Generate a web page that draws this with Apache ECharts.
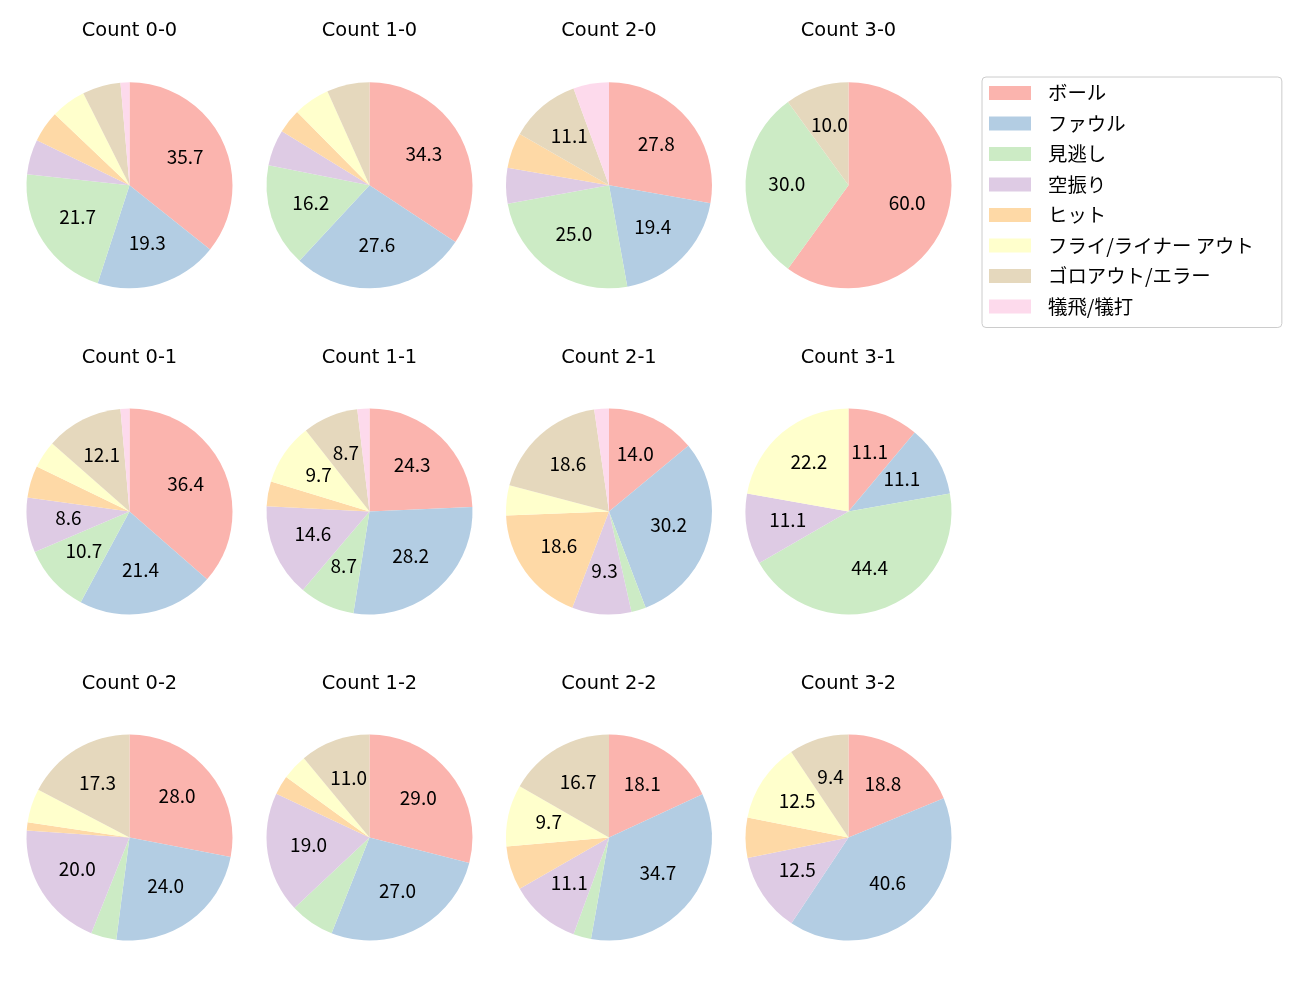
<!DOCTYPE html>
<html>
<head>
<meta charset="utf-8">
<script src="https://cdn.jsdelivr.net/npm/echarts@6/dist/echarts.min.js"></script>
<style>
html,body{margin:0;padding:0;background:#fff;}
#chart{width:1300px;height:1000px;}
</style>
</head>
<body>
<div id="chart"></div>
<script>
// ---- data ----
const categories = ['ボール','ファウル','見逃し','空振り','ヒット','フライ/ライナー アウト','ゴロアウト/エラー','犠飛/犠打'];
const colors = ['#fbb4ae','#b3cde3','#ccebc5','#decbe4','#fed9a6','#ffffcc','#e5d8bd','#fddaec'];
const countLabels = ['0-0','1-0','2-0','3-0','0-1','1-1','2-1','3-1','0-2','1-2','2-2','3-2'];
const c00 = [35.7,19.3,21.7,5.5,4.9,5.5,6.0,1.4];
const c10 = [34.3,27.6,16.2,5.7,3.8,5.7,6.7,0];
const c20 = [27.8,19.4,25.0,5.6,5.6,0,11.1,5.6];
const c30 = [60.0,0,30.0,0,0,0,10.0,0];
const c01 = [36.4,21.4,10.7,8.6,5.0,4.3,12.1,1.4];
const c11 = [24.3,28.2,8.7,14.6,3.9,9.7,8.7,1.9];
const c21 = [14.0,30.2,2.3,9.3,18.6,4.7,18.6,2.3];
const c31 = [11.1,11.1,44.4,11.1,0,22.2,0,0];
const c02 = [28.0,24.0,4.0,20.0,1.3,5.3,17.3,0];
const c12 = [29.0,27.0,7.0,19.0,3.0,4.0,11.0,0];
const c22 = [18.1,34.7,2.8,11.1,6.9,9.7,16.7,0];
const c32 = [18.8,40.6,0,12.5,6.3,12.5,9.4,0];
const countValues = [c00,c10,c20,c30,c01,c11,c21,c31,c02,c12,c22,c32];

// ---- layout ----
const colX = [129.5, 369.5, 609, 848.5];
const rowY = [185.3, 511.5, 837.5];
const titleY = [31, 357.5, 684];
const R = 103;
const FONT = '"Noto Sans CJK JP", "Noto Sans", sans-serif';

const titles = [];
const pieSeries = [];
const labelSeries = [];
countLabels.forEach((c, i) => {
  const col = i % 4, row = Math.floor(i / 4);
  titles.push({
    text: 'Count ' + c,
    left: colX[col], top: titleY[row],
    textAlign: 'center', textVerticalAlign: 'middle', padding: 0,
    textStyle: {fontSize: 19.4, fontWeight: 'normal', color: '#000', fontFamily: '"DejaVu Sans", sans-serif'}
  });
  const vals = countValues[i];
  const data = categories.map((n, k) => ({name: n, value: vals[k], itemStyle: {color: colors[k]}}));
  pieSeries.push({
    type: 'pie', center: [colX[col], rowY[row]], radius: [0, R],
    startAngle: 90, clockwise: true, silent: true, avoidLabelOverlap: false,
    label: {show: false}, labelLine: {show: false},
    itemStyle: {borderWidth: 0},
    data: data
  });
  labelSeries.push({
    type: 'pie', center: [colX[col], rowY[row]], radius: [0, R * 1.14],
    startAngle: 90, clockwise: true, silent: true, avoidLabelOverlap: false, z: 5,
    itemStyle: {color: 'rgba(0,0,0,0)', borderWidth: 0},
    label: {show: true, position: 'inside', color: '#000', fontSize: 19, fontFamily: FONT,
      offset: [0, -2],
      formatter: p => (p.value >= 8 ? p.value.toFixed(1) : '')},
    labelLine: {show: false},
    emphasis: {disabled: true},
    data: categories.map((n, k) => ({name: n, value: vals[k]}))
  });
});

const chart = echarts.init(document.getElementById('chart'), null, {renderer: 'canvas'});
chart.setOption({
  animation: false,
  color: colors,
  title: titles,
  legend: {
    orient: 'vertical', left: 982, top: 77,
    data: categories, selectedMode: false,
    icon: 'rect', itemWidth: 42, itemHeight: 14, itemGap: 8.5,
    borderColor: '#cccccc', borderWidth: 1, borderRadius: 4,
    padding: [5, 28, 10, 7],
    textStyle: {fontSize: 19.4, lineHeight: 22, color: '#000', fontFamily: FONT, padding: [0, 0, 0, 12]}
  },
  series: pieSeries.concat(labelSeries)
});
</script>
</body>
</html>
